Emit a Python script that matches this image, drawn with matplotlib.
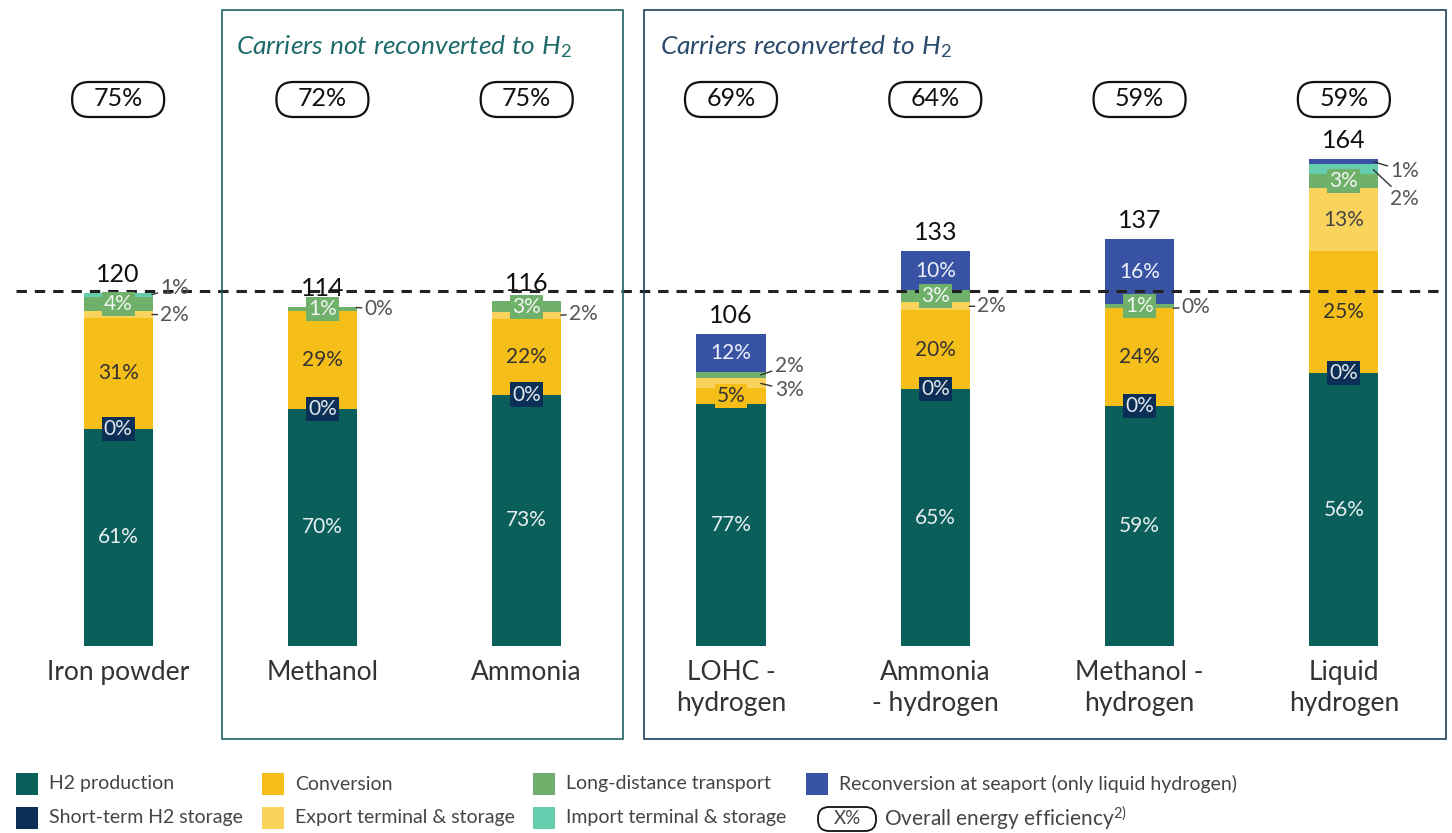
import matplotlib.pyplot as plt
from matplotlib.patches import Rectangle, FancyBboxPatch

plt.rcParams['font.family'] = ['Lato', 'DejaVu Sans']
plt.rcParams['mathtext.fontset'] = 'custom'
plt.rcParams['mathtext.rm'] = 'Lato'
plt.rcParams['mathtext.it'] = 'Lato:italic'

# ---- data ----
categories = ["Iron powder", "Methanol", "Ammonia", "LOHC -\nhydrogen",
              "Ammonia\n- hydrogen", "Methanol -\nhydrogen", "Liquid\nhydrogen"]
totals = [120, 114, 116, 106, 133, 137, 164]
efficiency = [75, 72, 75, 69, 64, 59, 59]

h2_production = [61, 70, 73, 77, 65, 59, 56]
short_storage = [0, 0, 0, 0, 0, 0, 0]
conversion = [31, 29, 22, 5, 20, 24, 25]
export_terminal = [2, 0, 2, 3, 2, 0, 13]
transport = [4, 1, 3, 2, 3, 1, 3]
import_terminal = [1, 0, 0, 0, 0, 0, 2]
reconversion = [0, 0, 0, 12, 10, 16, 1]

seg_names = ["H2 production", "Short-term H2 storage", "Conversion",
             "Export terminal & storage", "Long-distance transport",
             "Import terminal & storage", "Reconversion at seaport (only liquid hydrogen)"]
segments = [h2_production, short_storage, conversion, export_terminal,
            transport, import_terminal, reconversion]
seg_colors = ["#0B5F5A", "#0C2F55", "#F5BE18", "#F9D35C", "#6FB06A", "#66CDAE", "#3953A4"]

reference_level = 119.5

# labels drawn outside the bar: (bar, segment, x offset pt, y offset pt)
callouts = [(0, 5, 7, 5), (0, 3, 7, 0),
            (1, 5, 7, -1),
            (2, 3, 7, 1),
            (3, 4, 11, 7), (3, 3, 11, -5),
            (4, 3, 7, 0),
            (5, 3, 7, 1),
            (6, 6, 13, -7), (6, 5, 13, -22)]
storage_labelled = [0, 1, 2, 4, 5, 6]

# ---- figure ----
W, H = 1452, 833
fig = plt.figure(figsize=(W / 100, H / 100), dpi=100)
ax = fig.add_axes([16 / W, (H - 646) / H, 1430 / W, 646 / H])
ax.set_xlim(-0.5, 6.5)
ax.set_ylim(0, 646 / 2.97)
ax.axis('off')


def fx(px):
    return px / W


def fy(py):
    return 1 - py / H


x = list(range(len(categories)))
bar_w = 0.338
bottoms = [0.0] * len(x)
bounds = {}
for s, shares in enumerate(segments):
    heights = [t * p / 100 for t, p in zip(totals, shares)]
    ax.bar(x, heights, bar_w, bottom=bottoms, color=seg_colors[s], linewidth=0, zorder=1)
    for i in x:
        bounds[(i, s)] = (bottoms[i], heights[i])
    bottoms = [b + h for b, h in zip(bottoms, heights)]

ax.axhline(reference_level, color="#222222", lw=2.2, ls=(0, (3.4, 2.6)), zorder=2)

callout_keys = {(b, s) for b, s, _, _ in callouts}
lab_fs = 15
for i in x:
    for s, shares in enumerate(segments):
        if (i, s) in callout_keys:
            continue
        b, h = bounds[(i, s)]
        yc = b + h / 2
        val = f"{shares[i]}%"
        if s == 0:
            ax.text(i, yc, val, ha='center', va='center', fontsize=lab_fs, color="#E8EEF0", zorder=3)
        elif s == 1:
            if i in storage_labelled:
                ax.text(i, yc, val, ha='center', va='center', fontsize=lab_fs, color="#E0E6EE", zorder=4,
                        bbox=dict(boxstyle='square,pad=0.1', fc=seg_colors[1], ec='none'))
        elif shares[i] == 0:
            continue
        elif s == 2:
            if shares[i] < 8:
                ax.text(i, yc, val, ha='center', va='center', fontsize=lab_fs, color="#333333", zorder=4,
                        bbox=dict(boxstyle='square,pad=0.1', fc=seg_colors[2], ec='none'))
            else:
                ax.text(i, yc, val, ha='center', va='center', fontsize=lab_fs, color="#333333", zorder=3)
        elif s == 3:
            ax.text(i, yc, val, ha='center', va='center', fontsize=lab_fs, color="#444444", zorder=3)
        elif s == 4:
            ax.text(i, yc, val, ha='center', va='center', fontsize=lab_fs, color="#F2F5F2", zorder=4,
                    bbox=dict(boxstyle='square,pad=0.1', fc=seg_colors[4], ec='none'))
        else:
            ax.text(i, yc, val, ha='center', va='center', fontsize=lab_fs, color="#EEF0F8", zorder=3)

for i, s, ox, oy in callouts:
    b, h = bounds[(i, s)]
    inset = 0.03 if ox > 10 else 0.01
    ax.annotate(f"{segments[s][i]}%", xy=(i + bar_w / 2 - inset, b + h / 2),
                xytext=(ox, oy), textcoords='offset points', ha='left', va='center',
                fontsize=lab_fs, color="#555555", zorder=5,
                arrowprops=dict(arrowstyle='-', color="#333333", lw=1, shrinkA=0, shrinkB=1))

# totals above bars
for i in x:
    ax.annotate(str(totals[i]), xy=(i, bottoms[i]), xytext=(0, 5), textcoords='offset points',
                ha='center', va='bottom', fontsize=18, color="#111111", zorder=5)

# efficiency badges and category names (badge geometry in inches)
fig.canvas.draw()
inch = fig.dpi_scale_trans
for i in x:
    cx = ax.transData.transform((i, 0))[0]
    fig.patches.append(FancyBboxPatch(((cx - 46) / 100, (H - 117) / 100), 0.92, 0.35,
                                      boxstyle="round,pad=0,rounding_size=0.17",
                                      transform=inch, fc='white', ec='#111111', lw=1.6))
    fig.text(fx(cx), fy(99), f"{efficiency[i]}%", ha='center', va='center', fontsize=18,
             color="#111111")
    fig.text(fx(cx), fy(660), categories[i], ha='center', va='top', fontsize=19,
             color="#333333", linespacing=1.3)

# group boxes
fig.patches.append(Rectangle((fx(222), fy(739)), fx(401), 729 / H, transform=fig.transFigure,
                             fill=False, ec="#1F6462", lw=1.2))
fig.patches.append(Rectangle((fx(644), fy(739)), fx(802), 729 / H, transform=fig.transFigure,
                             fill=False, ec="#1F3F5E", lw=1.2))
fig.text(fx(236), fy(47), r"$\mathit{Carriers\ not\ reconverted\ to\ H_2}$", ha='left', va='center',
         fontsize=19, color="#1F6B6B")
fig.text(fx(660), fy(47), r"$\mathit{Carriers\ reconverted\ to\ H_2}$", ha='left', va='center',
         fontsize=19, color="#2B4A6B")

# legend
leg_cols = [16, 262, 533, 806]
leg_rows = [784, 818]
order = [(0, 0), (0, 1), (1, 0), (1, 1), (2, 0), (2, 1), (3, 0)]
for s, (c, r) in enumerate(order):
    lx, ly = leg_cols[c], leg_rows[r]
    fig.patches.append(Rectangle((fx(lx), fy(ly + 11)), fx(22), 22 / H, transform=fig.transFigure,
                                 fc=seg_colors[s], ec='none'))
    fig.text(fx(lx + 33), fy(ly), seg_names[s], ha='left', va='center', fontsize=14, color="#444444")
fig.patches.append(FancyBboxPatch((818 / 100, (H - 831) / 100), 0.58, 0.24,
                                  boxstyle="round,pad=0,rounding_size=0.11",
                                  transform=inch, fc='white', ec='#111111', lw=1.3))
fig.text(fx(847), fy(819), "X%", ha='center', va='center', fontsize=13.5, color="#444444")
fig.text(fx(884), fy(818), r"Overall energy efficiency$^{2)}$", ha='left', va='center',
         fontsize=15, color="#444444")

fig.savefig("out.png", dpi=100)
